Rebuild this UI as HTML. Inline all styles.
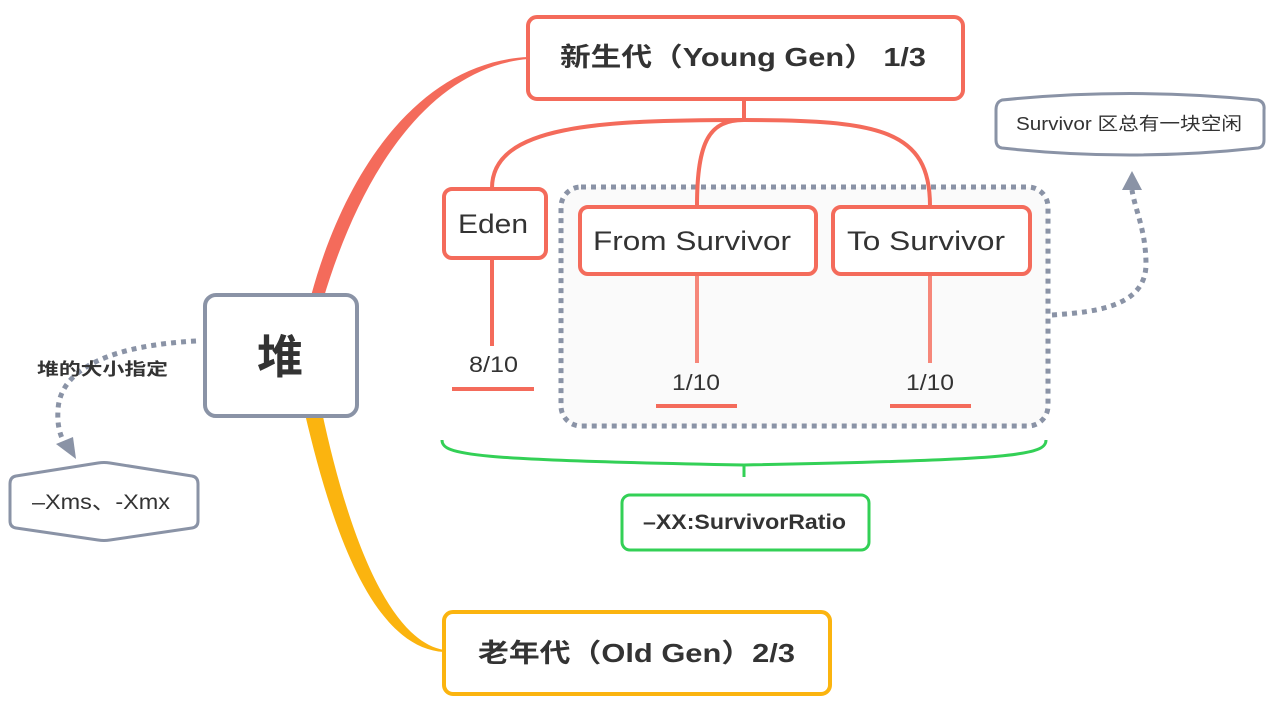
<!DOCTYPE html>
<html><head><meta charset="utf-8"><style>
html,body{margin:0;padding:0;background:#fff;}
svg{display:block;}
text{font-family:"Liberation Sans","Noto Sans CJK SC",sans-serif;fill:#333;}
</style></head><body>
<svg width="1275" height="711" viewBox="0 0 1275 711" xmlns="http://www.w3.org/2000/svg">
<path d="M311,296 C345,170 420,62 528,57 L528,59 C428,68 360,175 323,300 Z" fill="#f46b5b"/>
<path d="M305,414 C330,520 370,648 444,652 L444,650 C385,640 345,520 322,412 Z" fill="#fbb40f"/>
<rect x="561" y="187" width="487" height="239" rx="20" fill="#fafafa" stroke="#8a93a6" stroke-width="5" stroke-dasharray="5,5"/>
<g fill="none" stroke="#f46b5b" stroke-width="4">
<path d="M744,99 V120"/>
<path d="M744,120 C600,120 492,125 492,188"/>
<path d="M744,120 C710,120 697,140 697,206"/>
<path d="M744,120 C880,120 930,130 930,206"/>
<path d="M492,258 V346"/>
<path d="M452,389 H534"/>
<path d="M656,406 H737"/>
<path d="M890,406 H971"/>
</g>
<g fill="none" stroke="#f6877a" stroke-width="4">
<path d="M697,274 V363"/>
<path d="M930,274 V363"/>
</g>
<rect x="528" y="17" width="435" height="82" rx="9" fill="#fff" stroke="#f46b5b" stroke-width="4"/>
<text x="560" y="66" font-size="26" font-weight="bold" textLength="366" lengthAdjust="spacingAndGlyphs">新生代（Young Gen） 1/3</text>
<rect x="205" y="295" width="152" height="121" rx="11" fill="#fff" stroke="#8a93a6" stroke-width="4"/>
<text x="280" y="373" font-size="46" font-weight="bold" text-anchor="middle">堆</text>
<rect x="444" y="612" width="386" height="82" rx="9" fill="#fff" stroke="#fbb40f" stroke-width="4"/>
<text x="478" y="662" font-size="26" font-weight="bold" textLength="317" lengthAdjust="spacingAndGlyphs">老年代（Old Gen）2/3</text>
<rect x="444" y="189" width="102" height="69" rx="8" fill="#fff" stroke="#f46b5b" stroke-width="4"/>
<text x="458" y="233" font-size="27" textLength="70" lengthAdjust="spacingAndGlyphs">Eden</text>
<rect x="580" y="207" width="236" height="67" rx="8" fill="#fff" stroke="#f46b5b" stroke-width="4"/>
<text x="593" y="250" font-size="27" textLength="198" lengthAdjust="spacingAndGlyphs">From Survivor</text>
<rect x="833" y="207" width="197" height="67" rx="8" fill="#fff" stroke="#f46b5b" stroke-width="4"/>
<text x="847" y="250" font-size="27" textLength="158" lengthAdjust="spacingAndGlyphs">To Survivor</text>
<text x="469" y="372" font-size="22" textLength="49" lengthAdjust="spacingAndGlyphs">8/10</text>
<text x="672" y="390" font-size="22" textLength="48" lengthAdjust="spacingAndGlyphs">1/10</text>
<text x="906" y="390" font-size="22" textLength="48" lengthAdjust="spacingAndGlyphs">1/10</text>
<path d="M442,440 C442,455 470,460 744,465 C1018,460 1046,455 1046,440 M744,465 V477" fill="none" stroke="#33d056" stroke-width="3"/>
<rect x="622" y="495" width="247" height="55" rx="8" fill="#fff" stroke="#33d056" stroke-width="3"/>
<text x="643" y="529" font-size="21" font-weight="bold" textLength="203" lengthAdjust="spacingAndGlyphs">–XX:SurvivorRatio</text>
<path d="M1002,100 Q1130,87 1258,100 Q1265,102 1264,110 V140 Q1264,147 1258,148 Q1130,162 1002,148 Q996,147 996,140 V110 Q996,102 1002,100 Z" fill="#fff" stroke="#8a93a6" stroke-width="3"/>
<text x="1016" y="130" font-size="18" textLength="226" lengthAdjust="spacingAndGlyphs">Survivor 区总有一块空闲</text>
<path d="M1052,315 C1100,312 1145,305 1146,265 C1146,230 1135,210 1132,190" fill="none" stroke="#8a93a6" stroke-width="5" stroke-dasharray="5,5"/>
<path d="M1122,190 L1132,171 L1142,190 Z" fill="#8a93a6"/>
<path d="M196,341 C120,345 60,365 58,410 C57,425 60,435 64,442" fill="none" stroke="#8a93a6" stroke-width="5" stroke-dasharray="5,5"/>
<path d="M56,444 L76,459 L73,437 Z" fill="#8a93a6"/>
<text x="37" y="375" font-size="17" font-weight="bold" textLength="131" lengthAdjust="spacingAndGlyphs">堆的大小指定</text>
<path d="M16,476 L98,463 Q104,462 110,463 L192,476 Q198,477 198,484 V521 Q198,527 192,528 L110,540 Q104,541 98,540 L16,528 Q10,527 10,521 V484 Q10,477 16,476 Z" fill="#fff" stroke="#8a93a6" stroke-width="3"/>
<text x="32" y="509" font-size="21" textLength="138" lengthAdjust="spacingAndGlyphs">–Xms、-Xmx</text>
</svg>
</body></html>
